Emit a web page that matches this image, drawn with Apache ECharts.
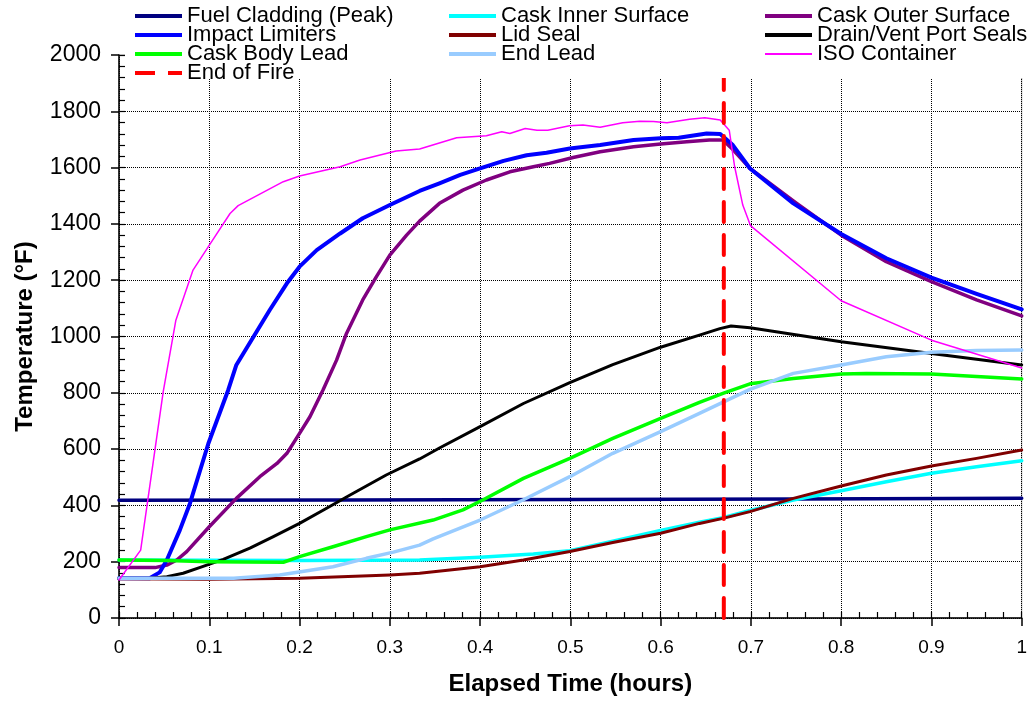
<!DOCTYPE html>
<html>
<head>
<meta charset="utf-8">
<script src="https://cdn.jsdelivr.net/npm/echarts@6/dist/echarts.min.js"></script>
<style>
html,body{margin:0;padding:0;background:#fff;}
#chart{width:1030px;height:703px;}
</style>
</head>
<body>
<div id="chart"></div>
<script>
// ---- data (x = elapsed time in hours, y = temperature in °F) ----
var xTicks = [0, 0.1, 0.2, 0.3, 0.4, 0.5, 0.6, 0.7, 0.8, 0.9, 1];
var yTicks = [0, 200, 400, 600, 800, 1000, 1200, 1400, 1600, 1800, 2000];

var fuelCladding = [[0,418],[0.25,419],[0.5,421],[0.75,423],[1,425]];
var caskInnerSurface = [[0,206],[0.1,205],[0.2,204],[0.333,206],[0.4,216],[0.459,227],[0.4994,239],[0.547,273],[0.6,311],[0.643,340],[0.669,356],[0.699,382],[0.747,419],[0.8,452],[0.85,484],[0.9,514],[0.95,537],[1,559]];
var caskOuterSurface = [[0,179],[0.04,179],[0.053,188],[0.064,206],[0.075,236],[0.1,324],[0.13,425],[0.156,502],[0.175,549],[0.186,585],[0.2,656],[0.2115,715],[0.226,810],[0.241,916],[0.252,1011],[0.27,1130],[0.285,1212],[0.3,1289],[0.3186,1360],[0.333,1410],[0.355,1473],[0.381,1520],[0.407,1556],[0.433,1585],[0.459,1603],[0.477,1615],[0.503,1636],[0.533,1656],[0.57,1674],[0.6,1684],[0.629,1692],[0.654,1698],[0.669,1698],[0.68,1664],[0.699,1597],[0.75,1475],[0.8,1360],[0.85,1266],[0.9,1195],[0.95,1130],[1,1073]];
var impactLimiters = [[0,141],[0.034,141],[0.045,162],[0.053,206],[0.0675,313],[0.0786,407],[0.099,620],[0.121,810],[0.13,899],[0.149,999],[0.167,1094],[0.186,1189],[0.2,1248],[0.219,1307],[0.245,1366],[0.27,1420],[0.3,1467],[0.333,1517],[0.355,1544],[0.378,1574],[0.4,1597],[0.426,1624],[0.4515,1644],[0.4736,1653],[0.4994,1668],[0.533,1680],[0.57,1698],[0.6,1704],[0.62,1706],[0.651,1721],[0.666,1719],[0.68,1680],[0.699,1597],[0.747,1473],[0.8,1364],[0.85,1278],[0.9,1209],[0.95,1151],[1,1096]];
var lidSeal = [[0,139],[0.1,138],[0.2,141],[0.3,153],[0.333,159],[0.4,182],[0.448,206],[0.4994,236],[0.547,268],[0.6,301],[0.643,336],[0.669,354],[0.699,378],[0.747,425],[0.8,469],[0.85,508],[0.9,540],[0.95,567],[1,597]];
var drainVentPortSeals = [[0,141],[0.034,141],[0.053,147],[0.071,159],[0.09,180],[0.1155,208],[0.145,248],[0.171,289],[0.2,336],[0.23,390],[0.256,437],[0.296,508],[0.333,565],[0.355,604],[0.4,680],[0.448,762],[0.4994,836],[0.547,900],[0.6,962],[0.643,1005],[0.6656,1028],[0.678,1037],[0.699,1031],[0.8,981],[0.9,940],[1,899]];
var caskBodyLead = [[0,206],[0.053,204],[0.1,200],[0.182,198],[0.2,218],[0.237,253],[0.274,289],[0.3,313],[0.348,348],[0.381,384],[0.403,419],[0.448,496],[0.4994,567],[0.547,638],[0.6,709],[0.643,766],[0.669,798],[0.699,832],[0.747,851],[0.8,867],[0.828,869],[0.9,867],[1,849]];
var endLead = [[0,141],[0.127,141],[0.178,153],[0.237,182],[0.274,212],[0.304,234],[0.333,259],[0.348,281],[0.4,348],[0.448,420],[0.4994,502],[0.547,585],[0.6,662],[0.643,727],[0.699,812],[0.747,869],[0.8,899],[0.85,928],[0.9,944],[0.95,950],[1,952]];
var isoContainer = [[0,135],[0.024,241],[0.049,804],[0.063,1058],[0.082,1236],[0.099,1319],[0.123,1437],[0.132,1465],[0.182,1550],[0.2,1570],[0.245,1603],[0.267,1627],[0.307,1659],[0.333,1666],[0.374,1706],[0.407,1713],[0.424,1727],[0.433,1721],[0.45,1739],[0.463,1733],[0.475,1733],[0.499,1749],[0.514,1751],[0.533,1743],[0.558,1759],[0.577,1765],[0.592,1764],[0.607,1759],[0.632,1772],[0.649,1777],[0.666,1769],[0.676,1733],[0.682,1603],[0.691,1467],[0.6995,1394],[0.8,1127],[0.9,987],[1,888]];
var endOfFire = [[0.67,0],[0.67,2000]];

var FONT = '"Liberation Sans", Arial, sans-serif';

function fmtX(v){ return (Math.round(v*10)/10).toString(); }
function fmtY(v){ return String(Math.round(v)); }

var DASH = [20, 13];

function lineSeries(name, data, color, width, dash){
  return {
    name: name, type: 'line', data: data, xAxisIndex: 0, yAxisIndex: 0,
    symbol: 'none', showSymbol: false, animation: false, smooth: false,
    lineStyle: { color: color, width: width, type: dash || 'solid', join: 'round', cap: 'round' },
    itemStyle: { color: color },
    z: 2
  };
}

var chart = echarts.init(document.getElementById('chart'));
var legendText = { fontFamily: FONT, fontSize: 22, color: '#000' };
function item(name, w, dash){ return { name: name, lineStyle: { width: w, type: dash || 'solid', cap: 'butt' } }; }
function mkLegend(left, items){
  return { orient: 'vertical', left: left, top: 5, padding: 0, itemGap: -3,
           itemWidth: 47, itemHeight: 14, textStyle: legendText, data: items,
           itemStyle: { opacity: 0 },
           selectedMode: false, z: 10 };
}

chart.setOption({
  animation: false,
  backgroundColor: '#fff',
  grid: { left: 119, right: 8, top: 55, bottom: 85, show: true, borderColor: '#999', borderWidth: 1, backgroundColor: 'transparent' },
  legend: [
    mkLegend(133, [item('Fuel Cladding (Peak)', 4), item('Impact Limiters', 4), item('Cask Body Lead', 4), item('End of Fire', 4, DASH)]),
    mkLegend(447, [item('Cask Inner Surface', 4), item('Lid Seal', 4), item('End Lead', 4)]),
    mkLegend(763, [item('Cask Outer Surface', 4), item('Drain/Vent Port Seals', 4), item('ISO Container', 2)])
  ],
  graphic: [{ type: 'rect', left: 125, top: 0, z: 3, shape: { width: 905, height: 78 }, style: { fill: '#fff' } }],
  xAxis: [
    { type: 'value', min: 0, max: 1, interval: 0.1, position: 'bottom',
      name: 'Elapsed Time (hours)', nameLocation: 'middle', nameGap: 54,
      nameTextStyle: { fontFamily: FONT, fontSize: 24, fontWeight: 'bold', color: '#000' },
      axisLine: { show: true, lineStyle: { color: '#000', width: 1.5 } },
      axisTick: { show: true, inside: false, length: 8, lineStyle: { color: '#000', width: 1.5 } },
      axisLabel: { fontFamily: FONT, fontSize: 19, color: '#000', margin: 20, formatter: fmtX },
      splitLine: { show: true, lineStyle: { color: '#000', width: 1, type: 'dotted' } }
    },
    { type: 'value', min: 0, max: 1, interval: 0.02, position: 'bottom',
      axisLine: { show: false }, axisLabel: { show: false }, splitLine: { show: false },
      axisTick: { show: true, inside: true, length: 6, lineStyle: { color: '#000', width: 1.2 } }
    }
  ],
  yAxis: [
    { type: 'value', min: 0, max: 2000, interval: 200, position: 'left',
      name: 'Temperature (°F)', nameLocation: 'middle', nameGap: 82, nameRotate: 90,
      nameTextStyle: { fontFamily: FONT, fontSize: 24, fontWeight: 'bold', color: '#000' },
      axisLine: { show: true, lineStyle: { color: '#000', width: 1.5 } },
      axisTick: { show: true, inside: false, length: 8, lineStyle: { color: '#000', width: 1.5 } },
      axisLabel: { fontFamily: FONT, fontSize: 23, color: '#000', margin: 18, formatter: fmtY },
      splitLine: { show: true, lineStyle: { color: '#000', width: 1, type: 'dotted' } }
    },
    { type: 'value', min: 0, max: 2000, interval: 40, position: 'left',
      axisLine: { show: false }, axisLabel: { show: false }, splitLine: { show: false },
      axisTick: { show: true, inside: true, length: 6, lineStyle: { color: '#000', width: 1.2 } }
    }
  ],
  series: [
    lineSeries('Fuel Cladding (Peak)', fuelCladding, '#000080', 3.5),
    lineSeries('Cask Inner Surface', caskInnerSurface, '#00FFFF', 3.5),
    lineSeries('Cask Outer Surface', caskOuterSurface, '#800080', 3.5),
    lineSeries('Impact Limiters', impactLimiters, '#0000FF', 4),
    lineSeries('Lid Seal', lidSeal, '#800000', 3),
    lineSeries('Drain/Vent Port Seals', drainVentPortSeals, '#000000', 3),
    lineSeries('Cask Body Lead', caskBodyLead, '#00FF00', 3.5),
    lineSeries('End Lead', endLead, '#99CCFF', 3.5),
    lineSeries('ISO Container', isoContainer, '#FF00FF', 1.5),
    lineSeries('End of Fire', endOfFire, '#FF0000', 4, DASH)
  ]
});
</script>
</body>
</html>
